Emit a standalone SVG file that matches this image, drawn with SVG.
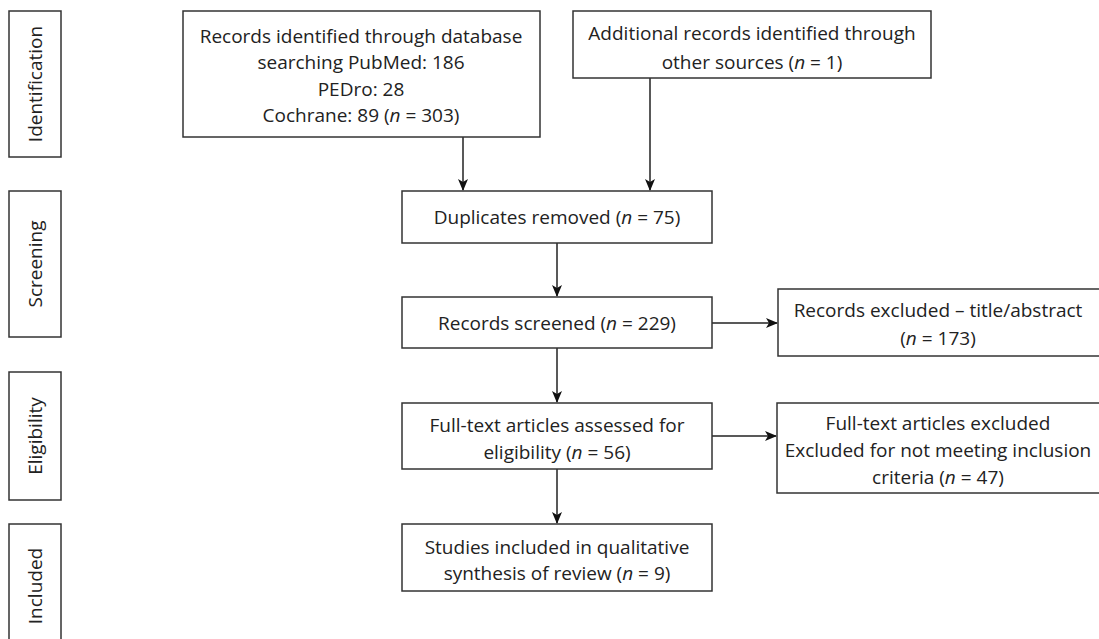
<svg xmlns="http://www.w3.org/2000/svg" width="1099" height="639" viewBox="0 0 1099 639">
  <style>
    .box { fill: #ffffff; stroke: #333333; stroke-width: 1.5; }
    .t { font-family: "Open Sans", "Noto Sans", sans-serif; font-size: 19px; fill: #222222; text-anchor: middle; }
    .side { font-family: "Open Sans", "Noto Sans", sans-serif; font-size: 19px; fill: #222222; text-anchor: middle; }
    .edge { stroke: #222222; stroke-width: 1.5; fill: none; marker-end: url(#arrow); }
    .i { font-style: italic; }
  </style>
  <defs>
    <marker id="arrow" markerWidth="12" markerHeight="10" refX="11" refY="5" orient="auto" markerUnits="userSpaceOnUse">
      <path d="M0,0 L12,5 L0,10 L3,5 Z" fill="#111111"/>
    </marker>
  </defs>
  <rect width="1099" height="639" fill="#ffffff"/>

  <!-- stage labels -->
  <g id="stage-identification">
    <rect class="box" x="9" y="11" width="52" height="146"/>
    <text class="side" transform="translate(42,84) rotate(-90)">Identification</text>
  </g>
  <g id="stage-screening">
    <rect class="box" x="9" y="191" width="52" height="146"/>
    <text class="side" transform="translate(42,264) rotate(-90)">Screening</text>
  </g>
  <g id="stage-eligibility">
    <rect class="box" x="9" y="372" width="52" height="128"/>
    <text class="side" transform="translate(42,436) rotate(-90)">Eligibility</text>
  </g>
  <g id="stage-included">
    <rect class="box" x="9" y="524" width="52" height="130"/>
    <text class="side" transform="translate(42,586) rotate(-90)">Included</text>
  </g>

  <!-- connectors -->
  <g id="connectors">
    <line class="edge" x1="463" y1="137" x2="463" y2="190"/>
    <line class="edge" x1="650" y1="78" x2="650" y2="190"/>
    <line class="edge" x1="557" y1="243" x2="557" y2="296"/>
    <line class="edge" x1="712" y1="323" x2="777" y2="323"/>
    <line class="edge" x1="557" y1="348" x2="557" y2="402"/>
    <line class="edge" x1="712" y1="436" x2="776" y2="436"/>
    <line class="edge" x1="557" y1="469" x2="557" y2="523"/>
  </g>

  <g id="records-database">
    <rect class="box" x="183" y="11" width="357" height="126"/>
    <text class="t" x="361" y="43">Records identified through database</text>
    <text class="t" x="361" y="69">searching PubMed: 186</text>
    <text class="t" x="361" y="96">PEDro: 28</text>
    <text class="t" x="361" y="122">Cochrane: 89 (<tspan class="i">n</tspan> = 303)</text>
  </g>

  <g id="records-other">
    <rect class="box" x="573" y="11" width="358" height="67"/>
    <text class="t" x="752" y="40">Additional records identified through</text>
    <text class="t" x="752" y="69">other sources (<tspan class="i">n</tspan> = 1)</text>
  </g>

  <g id="duplicates-removed">
    <rect class="box" x="402" y="191" width="310" height="52"/>
    <text class="t" x="557" y="224">Duplicates removed (<tspan class="i">n</tspan> = 75)</text>
  </g>

  <g id="records-screened">
    <rect class="box" x="402" y="297" width="310" height="51"/>
    <text class="t" x="557" y="330">Records screened (<tspan class="i">n</tspan> = 229)</text>
  </g>

  <g id="records-excluded">
    <rect class="box" x="778" y="289" width="330" height="67"/>
    <text class="t" x="938" y="317">Records excluded – title/abstract</text>
    <text class="t" x="938" y="345">(<tspan class="i">n</tspan> = 173)</text>
  </g>

  <g id="fulltext-assessed">
    <rect class="box" x="402" y="403" width="310" height="66"/>
    <text class="t" x="557" y="432">Full-text articles assessed for</text>
    <text class="t" x="557" y="459">eligibility (<tspan class="i">n</tspan> = 56)</text>
  </g>

  <g id="fulltext-excluded">
    <rect class="box" x="777" y="403" width="330" height="90"/>
    <text class="t" x="938" y="430">Full-text articles excluded</text>
    <text class="t" x="938" y="457">Excluded for not meeting inclusion</text>
    <text class="t" x="938" y="484">criteria (<tspan class="i">n</tspan> = 47)</text>
  </g>

  <g id="studies-included">
    <rect class="box" x="402" y="524" width="310" height="67"/>
    <text class="t" x="557" y="554">Studies included in qualitative</text>
    <text class="t" x="557" y="580">synthesis of review (<tspan class="i">n</tspan> = 9)</text>
  </g>
</svg>
